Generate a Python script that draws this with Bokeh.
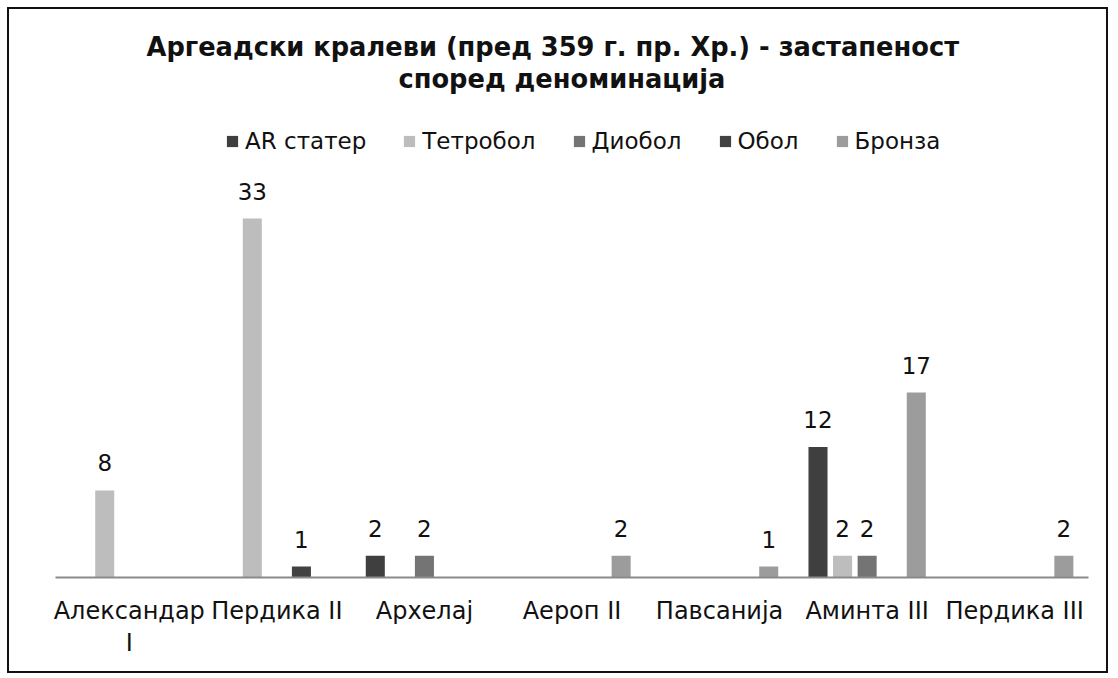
from bokeh.plotting import figure
from bokeh.models import (ColumnDataSource, Range1d, Legend, LegendItem,
                          LabelSet, Title, LinearAxis, FixedTicker)
from bokeh.core.properties import value
from bokeh.transform import dodge
from bokeh.embed import file_html
from bokeh.resources import INLINE

# ---- data ----
kings = ["Александар I", "Пердика II", "Архелај", "Аероп II", "Павсанија", "Аминта III", "Пердика III"]
series_names = ["AR статер", "Тетробол", "Диобол", "Обол", "Бронза"]
ar_stater = [0, 0, 2, 0, 0, 12, 0]
tetrobol = [8, 33, 0, 0, 0, 2, 0]
diobol = [0, 0, 2, 0, 0, 2, 0]
obol = [0, 1, 0, 0, 0, 0, 0]
bronza = [0, 0, 0, 2, 1, 17, 2]
title_lines = ["Аргеадски кралеви (пред 359 г. пр. Хр.) - застапеност", "според деноминација"]
wrapped = {"Александар I": ("Александар", "I")}

series_values = [ar_stater, tetrobol, diobol, obol, bronza]
colors = ["#3f3f3f", "#bdbdbd", "#747474", "#424242", "#9c9c9c"]
offsets = [-0.333, -0.1665, 0.0, 0.1665, 0.333]

FONT = "DejaVu Sans"
pos = list(range(len(kings)))

p = figure(x_range=Range1d(-0.5, len(kings) - 0.5), y_range=Range1d(0, 44.5),
           width=1101, height=666, output_backend="svg", toolbar_location=None,
           title=None, min_border_left=46, min_border_right=22,
           min_border_bottom=98, min_border_top=84, x_axis_location=None)
p.margin = (7, 0, 0, 7)
p.styles = {"border": "2px solid #111"}
p.outline_line_color = None
p.xgrid.grid_line_color = None
p.ygrid.grid_line_color = None
p.yaxis.visible = False

items = []
for name, vals, col, off in zip(series_names, series_values, colors, offsets):
    src = ColumnDataSource(dict(x=pos, v=vals))
    r = p.vbar(x=dodge("x", off), top="v", width=0.129, source=src,
               fill_color=col, line_color=None)
    items.append(LegendItem(label=name, renderers=[r]))
    nz = [i for i, v in enumerate(vals) if v != 0]
    lsrc = ColumnDataSource(dict(x=[pos[i] for i in nz], v=[vals[i] for i in nz],
                                 t=[str(vals[i]) for i in nz]))
    p.add_layout(LabelSet(x=dodge("x", off), y="v", text="t", source=lsrc,
                          text_align="center", text_baseline="bottom", y_offset=19,
                          text_font=value(FONT), text_font_size="23px", text_color="#111"))

line1 = {i: wrapped.get(k, (k, ""))[0] for i, k in zip(pos, kings)}
line2 = {i: wrapped.get(k, (k, ""))[1] for i, k in zip(pos, kings)}

ax = LinearAxis(ticker=FixedTicker(ticks=pos), major_label_overrides=line1,
                axis_line_color="#8a8a8a", axis_line_width=2,
                major_tick_line_color=None, minor_tick_line_color=None,
                major_label_text_font=FONT, major_label_text_font_size="24px",
                major_label_text_color="#111", major_label_standoff=13)
p.add_layout(ax, "below")
ax2 = LinearAxis(ticker=FixedTicker(ticks=pos), major_label_overrides=line2,
                 axis_line_color=None, major_tick_line_color=None, minor_tick_line_color=None,
                 major_label_text_font=FONT, major_label_text_font_size="24px",
                 major_label_text_color="#111", major_label_standoff=-5)
p.add_layout(ax2, "below")

legend = Legend(items=items, orientation="horizontal", location=(170, 423),
                label_text_font=FONT, label_text_font_size="23px", label_text_color="#111",
                glyph_width=14, glyph_height=14, label_standoff=6, spacing=36,
                border_line_color=None, background_fill_alpha=0, padding=0, margin=0)
p.add_layout(legend, "center")
p.add_layout(Title(text=title_lines[1], align="left", text_font=FONT, text_font_size="25.7px",
                   text_font_style="bold", text_color="#111", standoff=0, offset=343), "above")
p.add_layout(Title(text=title_lines[0], align="left", text_font=FONT, text_font_size="25.7px",
                   text_font_style="bold", text_color="#111", standoff=0, offset=91), "above")

open("out.html", "w").write(file_html(p, INLINE))
